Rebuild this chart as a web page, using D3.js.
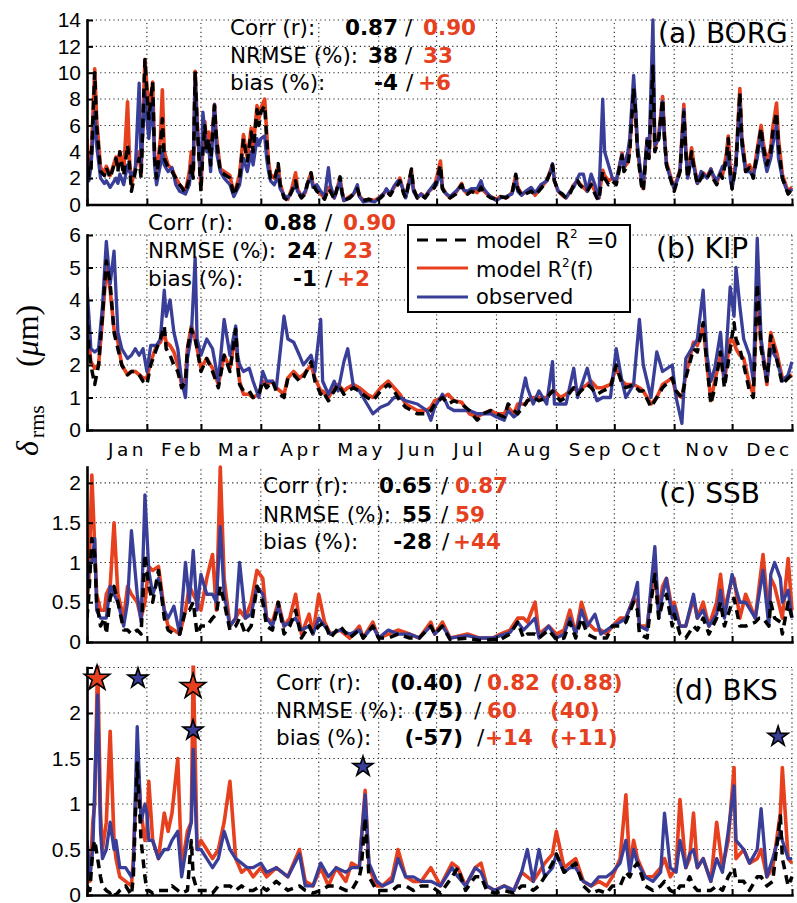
<!DOCTYPE html>
<html><head><meta charset="utf-8">
<script src="https://cdn.jsdelivr.net/npm/d3@7"></script>
<style>body{margin:0;background:#fff}svg{display:block}</style>
</head><body>
<svg id="chart" width="797" height="903"></svg>
<script>
// ---------------- DATA ----------------
const months = ["Jan","Feb","Mar","Apr","May","Jun","Jul","Aug","Sep","Oct","Nov","Dec"];
const monthLabelDays = [20.7,49.2,79.2,110.8,141.9,171.4,197.8,229.4,260.9,287.3,321.5,353.1];
const monthTickDays = [0,31,59,90,120,151,181,212,243,273,304,334,365];
const statNames = ["Corr (r):","NRMSE (%):","bias (%):"];
const seriesNames = ["model","model","observed"];

// (a) BORG
const borgDays = [0,1,2,4,5,7,9,10,12,15,
16,17,19,21,22,23,25,27,28,30,
31,32,34,35,36,38,39,40,42,44,
46,48,51,53,54,55,56,57,59,60,
61,62,63,64,66,67,69,71,74,76,
78,79,81,83,85,86,88,89,90,92,
93,94,95,97,99,100,102,104,106,108,
109,111,113,114,116,117,119,121,123,125,
126,128,131,132,133,136,138,140,141,143,
146,149,152,154,155,157,159,161,162,164,
165,168,169,171,173,175,177,180,181,183,
184,186,188,191,194,195,197,199,202,204,
205,207,209,212,214,217,220,222,223,225,
227,230,232,235,238,240,241,242,244,246,
248,250,252,254,255,257,259,261,263,264,
265,267,268,270,272,274,277,278,280,281,
283,284,285,287,288,290,291,293,294,296,
298,299,300,302,304,306,307,309,310,311,
313,314,316,318,319,321,323,324,326,328,
329,331,332,333,334,336,338,339,341,343,
345,347,349,350,352,354,355,357,358,360,
362,363,365];
const borgModel0 = [4.0,2.2,2.5,10.0,6.0,2.5,2.2,2.8,2.0,3.5,
2.5,4.0,2.2,4.5,3.0,1.0,2.5,3.5,2.0,11.0,
8.5,6.5,9.3,3.5,2.0,4.5,6.5,3.5,2.8,2.5,
2.0,1.5,0.9,2.0,3.0,2.0,10.1,6.0,1.0,4.0,
6.0,4.0,5.0,3.0,7.5,5.0,2.5,2.3,2.0,0.7,
1.5,2.0,5.0,3.3,5.5,4.0,7.2,6.0,7.0,7.5,
5.0,3.0,2.0,1.8,3.1,1.5,0.5,0.3,1.0,1.8,
1.0,0.5,0.8,1.5,2.4,1.5,1.0,0.8,0.4,1.2,
1.0,0.4,2.1,1.0,0.3,0.5,0.8,1.2,0.7,0.3,
0.4,0.2,0.5,0.8,1.0,0.7,1.2,1.5,1.8,0.8,
0.5,2.7,1.2,0.5,0.7,0.5,0.9,1.3,1.8,3.0,
1.2,0.7,0.5,0.8,1.5,1.0,0.8,1.0,0.8,1.3,
1.0,0.7,0.5,0.4,0.6,0.5,0.8,2.3,1.2,0.7,
0.8,1.0,0.7,1.2,1.8,2.5,3.0,1.8,1.0,0.8,
0.5,0.8,1.5,1.8,1.5,1.2,1.0,1.5,0.8,0.5,
0.3,2.5,2.0,1.5,1.8,1.5,3.7,2.5,3.0,4.0,
8.8,7.0,4.0,1.5,1.0,4.8,3.5,10.5,4.0,5.0,
8.0,5.0,3.0,2.0,1.0,2.0,2.5,7.0,4.0,2.0,
4.0,3.0,1.5,2.0,2.3,2.0,2.5,2.0,1.5,2.3,
2.0,3.5,5.0,2.5,1.2,3.0,8.5,5.0,2.5,2.8,
2.0,4.0,5.8,4.5,3.0,4.0,5.5,7.0,4.5,2.0,
1.2,0.8,1.2];
const borgModelF = [5.0,2.5,2.8,10.3,6.5,2.8,2.4,2.9,2.2,3.6,
2.8,4.0,2.5,7.8,3.5,1.5,2.8,4.0,2.3,11.0,
9.0,7.0,9.3,3.8,2.2,5.0,8.7,4.0,3.0,2.7,
2.0,1.5,1.0,2.5,4.0,2.5,10.1,6.5,1.2,4.5,
6.3,4.3,5.5,3.5,7.6,5.2,2.7,2.5,2.2,0.8,
1.7,2.3,5.3,3.5,5.8,4.2,7.5,6.5,7.3,8.0,
5.5,3.2,2.3,2.0,2.9,1.6,0.6,0.4,1.2,2.4,
1.2,0.6,0.9,1.5,2.4,1.5,1.1,0.8,0.5,1.3,
1.0,0.5,2.0,1.0,0.3,0.6,0.8,1.2,0.7,0.3,
0.4,0.3,0.6,0.9,1.1,0.8,1.3,1.7,2.0,0.9,
0.6,2.6,1.2,0.5,0.8,0.6,1.0,1.4,2.0,3.3,
1.3,0.8,0.5,0.9,1.6,1.1,0.8,1.1,0.9,1.5,
1.1,0.8,0.6,0.4,0.6,0.5,0.9,2.2,1.3,0.8,
0.9,1.1,0.7,1.3,1.8,2.6,3.0,1.8,1.0,0.7,
0.5,0.9,1.5,1.8,1.6,1.3,1.0,1.6,1.0,0.6,
0.5,2.6,2.2,1.8,2.0,1.7,3.9,2.8,3.2,4.3,
8.8,7.0,4.2,1.8,1.2,5.0,3.8,10.5,4.2,5.3,
8.2,5.2,3.2,2.2,1.2,2.2,2.6,7.6,4.3,2.2,
4.3,3.3,1.6,2.2,2.4,2.1,2.7,2.2,1.6,2.5,
2.2,3.8,5.2,2.8,1.4,3.3,8.8,5.2,2.8,3.0,
2.3,4.2,6.0,4.8,3.2,4.3,5.8,7.7,5.0,2.3,
1.4,1.0,1.3];
const borgObs = [3.5,1.8,2.8,7.0,4.5,2.0,1.6,1.8,1.3,2.0,
1.6,2.3,1.5,3.0,2.5,2.2,2.6,9.2,3.0,8.5,
6.5,5.0,8.0,3.0,1.5,3.0,4.0,3.0,2.5,2.8,
1.5,1.0,0.8,1.5,3.0,3.0,9.8,6.0,2.0,7.0,
5.5,4.0,4.5,2.5,7.6,4.0,2.5,2.0,1.5,0.6,
1.2,1.5,3.5,2.5,4.0,3.0,5.0,4.5,5.0,5.2,
3.5,2.5,1.8,1.5,2.2,1.2,0.7,0.5,1.0,1.5,
1.0,0.6,1.0,1.6,2.0,1.3,1.5,1.0,0.6,2.8,
1.5,0.5,1.8,0.8,0.3,0.5,0.8,1.5,0.6,0.2,
0.3,0.2,0.6,0.9,1.2,0.8,1.4,1.8,1.8,1.0,
0.5,2.3,1.0,0.5,0.8,0.5,1.0,1.6,1.5,2.5,
1.2,0.8,0.6,1.0,1.5,1.1,1.0,1.2,1.2,1.8,
1.3,0.9,0.6,0.3,0.5,0.6,0.8,1.8,1.0,0.7,
1.0,1.3,0.9,1.5,1.8,2.5,3.1,1.8,1.0,0.8,
0.5,1.0,1.3,2.0,2.3,2.3,1.0,2.3,1.5,0.8,
0.5,8.0,4.0,3.0,2.0,1.8,3.8,2.8,4.0,5.0,
9.8,7.5,4.5,2.0,1.5,5.0,4.0,14.0,4.5,5.0,
7.8,5.0,3.0,2.0,1.2,2.0,2.5,7.2,4.0,2.0,
3.5,3.0,1.6,2.5,2.3,2.0,2.7,2.3,1.8,2.5,
2.9,3.0,4.0,2.0,1.2,3.0,8.0,4.5,2.5,2.5,
2.2,3.5,5.5,4.0,2.5,3.5,4.5,6.0,3.5,2.0,
1.2,0.8,1.2];

// (b) KIP
const kipDays = [0,1,2,4,6,8,10,12,14,16,
18,21,23,25,27,29,31,33,36,38,
40,41,43,45,47,49,51,52,54,56,
57,59,62,65,68,71,74,77,78,79,
81,84,86,89,91,93,96,98,102,104,
107,110,112,116,118,121,122,125,128,130,
133,135,138,141,145,148,152,156,159,162,
165,171,176,178,180,184,187,190,194,198,
202,205,209,212,216,218,221,223,227,228,
231,234,238,241,242,245,248,252,254,259,
261,264,267,271,274,277,279,283,286,288,
292,295,298,303,305,308,310,314,316,319,
321,323,325,328,330,333,335,336,338,340,
343,345,347,349,352,354,357,360,363,365];
const kipModel0 = [3.7,2.5,2.0,1.4,2.0,3.5,5.2,4.5,3.0,2.5,
2.0,1.7,1.8,1.8,1.7,1.5,1.4,2.0,2.5,2.8,
3.2,2.5,2.3,2.0,1.8,1.3,1.5,2.5,3.1,2.8,
2.5,1.8,2.2,1.8,1.3,2.3,1.8,3.1,2.0,1.4,
1.2,1.2,1.0,1.1,1.5,1.3,1.5,1.2,1.0,1.6,
1.7,1.5,1.6,2.1,1.5,1.1,1.2,0.9,1.2,1.4,
1.1,1.2,1.3,1.2,1.0,0.9,1.2,1.4,1.2,0.9,
0.7,0.5,0.5,0.6,0.8,1.0,0.8,0.9,0.8,0.6,
0.3,0.5,0.6,0.5,0.4,0.8,0.6,0.5,0.8,0.9,
1.0,0.9,1.0,1.2,1.1,0.9,1.0,1.3,1.1,1.4,
1.3,1.1,1.2,1.3,2.0,1.4,1.3,1.4,1.2,1.2,
0.7,1.0,1.3,1.6,1.2,1.0,1.6,2.5,2.4,3.3,
2.0,0.8,1.3,2.4,1.3,2.5,3.3,2.8,2.5,2.0,
1.2,1.0,4.5,2.5,1.5,2.9,2.2,1.4,1.6,1.7];
const kipModelF = [4.0,2.7,2.1,1.9,2.0,3.4,5.0,4.3,3.1,2.7,
2.0,1.7,1.8,1.8,1.7,1.6,1.6,2.1,2.6,2.7,
3.0,2.7,2.6,2.4,2.0,1.4,1.6,2.5,3.2,2.8,
2.5,1.9,2.2,1.9,1.4,2.3,1.9,3.0,2.0,1.5,
1.1,1.1,1.0,1.1,1.5,1.4,1.5,1.3,1.1,1.6,
1.8,1.6,1.7,2.0,1.6,1.2,1.2,1.0,1.3,1.4,
1.2,1.3,1.4,1.3,1.1,1.0,1.3,1.5,1.3,1.1,
0.8,0.6,0.6,0.7,0.9,1.0,1.1,0.9,0.85,0.5,
0.4,0.5,0.6,0.5,0.5,0.7,0.5,0.8,0.8,0.9,
1.0,1.0,1.0,1.2,1.2,1.0,1.1,1.3,1.2,1.4,
1.5,1.3,1.3,1.4,1.9,1.5,1.4,1.4,1.3,1.2,
0.8,1.0,1.4,1.6,1.1,1.0,1.7,2.7,2.6,3.2,
2.0,0.9,1.5,2.3,1.5,2.8,2.7,2.5,2.3,2.2,
1.4,1.1,4.3,2.7,1.4,3.0,2.4,1.6,1.6,1.7];
const kipObs = [4.4,3.5,2.5,2.4,2.5,3.8,5.8,4.5,5.5,3.0,
2.5,2.2,2.3,2.5,2.3,2.5,1.8,2.6,2.6,2.8,
4.3,3.5,4.0,3.0,2.5,1.5,1.0,2.2,2.9,5.3,
2.8,2.3,2.8,2.5,1.5,3.4,2.3,3.2,2.3,2.0,
1.8,1.9,1.5,1.0,1.8,1.5,1.5,1.3,3.5,2.8,
2.7,2.3,2.0,2.3,1.8,3.4,1.5,1.1,1.5,1.2,
2.1,2.5,1.3,1.2,0.8,0.5,0.7,0.8,1.0,1.0,
0.9,0.8,0.6,0.3,0.7,1.1,0.7,0.6,0.6,0.6,
0.5,0.5,0.5,0.4,0.3,0.6,0.4,0.5,1.6,1.3,
0.8,1.2,0.8,2.1,0.8,0.8,0.8,1.9,1.0,1.9,
1.4,0.9,1.0,1.0,2.5,1.5,1.0,1.4,3.4,2.0,
1.0,2.4,1.8,2.0,1.0,0.2,2.2,2.6,2.8,4.3,
2.3,1.5,1.9,3.0,1.5,4.4,3.5,5.0,3.8,2.8,
2.3,1.5,5.9,2.8,1.5,2.5,2.2,1.5,1.7,2.1];

// (c) SSB
const ssbDays = [0,1,2.5,4,5,7,9,10,12,14,
16,19,21,23,26,28,30,32,34,37,
40,42,45,48,51,53,55,57,59,62,
65,67,69,71,74,77,79,82,85,88,
91,93,96,99,102,105,108,111,115,117,
120,123,126,131,136,141,143,148,151,156,
161,167,172,178,180,184,188,197,203,210,
214,219,223,226,228,232,234,239,243,247,
250,253,256,259,263,266,269,272,276,279,
283,285,286,290,292,294,296,298,300,303,
304,307,310,314,316,319,322,326,328,330,
334,335,338,341,346,348,350,353,354,356,
359,360,363,365];
const ssbModel0 = [0.3,0.6,1.3,1.1,0.5,0.2,0.3,0.1,0.55,0.7,
0.5,0.15,0.15,0.1,0.15,0.1,1.1,0.7,0.5,0.9,
0.3,0.15,0.1,0.1,0.4,0.4,0.5,0.1,0.2,0.2,
0.3,0.35,0.7,0.5,0.15,0.2,0.3,0.1,0.2,0.7,
0.5,0.2,0.15,0.5,0.1,0.2,0.4,0.05,0.2,0.1,
0.2,0.25,0.05,0.2,0.05,0.15,0.05,0.2,0.05,0.05,
0.1,0.05,0.05,0.2,0.1,0.2,0.03,0.05,0.02,0.03,
0.03,0.1,0.25,0.05,0.1,0.1,0.05,0.15,0.03,0.05,
0.25,0.05,0.3,0.1,0.05,0.05,0.05,0.2,0.2,0.25,
0.5,0.4,0.1,0.05,0.5,0.85,0.3,0.5,0.6,0.2,
0.35,0.1,0.05,0.2,0.15,0.3,0.1,0.3,0.5,0.2,
0.5,0.55,0.2,0.2,0.25,0.3,0.3,0.2,0.5,0.3,
0.25,0.1,0.5,0.3];
const ssbModelF = [0.5,0.8,2.1,1.2,0.6,0.4,0.4,0.6,0.7,1.5,
0.6,0.3,0.7,0.6,0.5,0.3,0.5,0.95,0.9,0.95,
0.4,0.2,0.15,0.1,0.4,0.7,0.6,0.5,0.4,0.8,
1.1,0.4,2.2,0.8,0.2,0.3,0.4,0.3,0.5,0.9,
0.8,0.3,0.25,0.5,0.2,0.3,0.6,0.1,0.35,0.1,
0.6,0.25,0.1,0.15,0.05,0.2,0.05,0.25,0.05,0.1,
0.15,0.1,0.05,0.25,0.1,0.25,0.05,0.1,0.05,0.05,
0.1,0.15,0.3,0.3,0.25,0.5,0.1,0.2,0.1,0.15,
0.4,0.1,0.5,0.25,0.15,0.15,0.1,0.2,0.3,0.3,
0.55,0.5,0.2,0.2,0.6,0.9,0.4,0.7,0.8,0.4,
0.5,0.2,0.2,0.55,0.3,0.5,0.2,0.5,0.85,0.4,
0.8,0.8,0.3,0.6,0.3,0.7,1.1,0.3,0.8,0.7,
0.4,0.3,1.05,0.4];
const ssbObs = [0.5,1.0,1.0,1.3,0.4,0.3,0.3,0.3,0.7,0.6,
0.5,0.2,0.5,1.4,0.6,0.25,1.85,0.9,0.6,0.8,
0.4,0.3,0.45,0.1,1.0,0.5,1.15,0.4,0.85,0.6,
0.6,0.5,1.45,0.6,0.2,0.3,1.0,0.3,0.35,0.7,
0.6,0.3,0.2,0.45,0.2,0.25,0.3,0.15,0.2,0.1,
0.3,0.2,0.1,0.15,0.1,0.15,0.05,0.2,0.05,0.15,
0.1,0.1,0.05,0.2,0.1,0.2,0.05,0.08,0.05,0.05,
0.08,0.12,0.25,0.15,0.2,0.3,0.05,0.2,0.05,0.1,
0.3,0.1,0.4,0.2,0.35,0.1,0.15,0.2,0.25,0.3,
0.55,0.75,0.2,0.15,0.7,1.2,0.3,0.6,0.8,0.3,
0.45,0.2,0.2,0.6,0.3,0.4,0.2,0.35,0.65,0.3,
0.85,0.75,0.5,0.5,0.3,0.6,0.9,0.2,0.85,1.0,
0.8,0.5,0.65,0.3];

// (d) BKS
const bksDays = [0,1.5,3,4,5.5,7,8,10,12,14,
15,17,20,23,24,26,28,30,31,32,
34,37,40,42,44,47,49,52,54,55,
57,59,62,65,68,71,74,77,80,83,
86,90,93,98,104,110,113,117,121,125,
129,134,137,141,142,144,146,150,153,158,
161,165,169,173,178,183,189,192,196,201,
204,207,211,216,221,225,228,231,234,237,
241,243,247,250,253,257,261,265,269,272,
276,279,281,283,285,289,293,297,299,302,
305,307,310,312,314,316,319,323,326,329,
332,335,336,340,343,347,349,352,355,359,
360,363,365];
const bksModel0 = [0.1,0.05,0.5,0.6,0.4,0.2,0.1,0.05,0.02,0.05,
0,0.05,0.1,0,0.2,1.45,0.6,0.2,0.05,0.05,
0.02,0.05,0.05,0.05,0.1,0.05,0.02,0.05,0.6,0.2,
0.05,0.05,0.05,0.02,0.1,0.1,0.1,0.05,0.1,0.05,
0.05,0.1,0.05,0.15,0.05,0.1,0.05,0.02,0.05,0.1,
0.1,0.05,0.05,0.2,0.3,0.85,0.2,0.05,0.05,0.05,
0.1,0.1,0.05,0.1,0.1,0.02,0.2,0.3,0.05,0.2,
0.2,0.05,0.02,0.05,0.02,0.1,0.1,0.05,0.1,0.2,
0.35,0.45,0.25,0.3,0.35,0.1,0.02,0.05,0.02,0.1,
0.1,0.25,0.2,0.3,0.35,0.1,0.05,0.1,0.15,0.05,
0.02,0.1,0.1,0.2,0.1,0.05,0.05,0.05,0.1,0.05,
0.2,0.3,0.15,0.15,0.05,0.2,0.2,0.1,0.15,0.87,
0.4,0.1,0.2];
const bksModelF = [0.3,0.15,0.8,1.0,2.6,0.9,0.5,0.8,1.8,0.6,
0.4,0.2,0.15,0.1,0.4,1.5,0.9,0.6,0.7,1.25,
0.6,0.4,0.9,0.7,0.9,1.5,0.3,0.7,0.8,2.6,
0.5,0.6,0.5,0.4,0.5,0.8,1.25,0.4,0.25,0.3,
0.2,0.3,0.2,0.3,0.2,0.5,0.15,0.1,0.3,0.1,
0.3,0.15,0.35,0.3,0.6,1.15,0.3,0.1,0.1,0.2,
0.5,0.2,0.15,0.15,0.3,0.1,0.35,0.3,0.1,0.3,
0.35,0.1,0.05,0.1,0.05,0.25,0.2,0.15,0.25,0.35,
0.45,0.7,0.3,0.35,0.4,0.15,0.1,0.15,0.1,0.2,
0.4,1.1,0.3,0.6,0.4,0.2,0.2,0.3,0.4,0.2,
0.3,1.05,0.3,0.4,0.9,0.3,0.4,0.15,0.8,0.3,
0.6,1.4,0.4,0.5,0.35,0.4,0.5,0.2,0.3,0.9,
1.4,0.4,0.35];
const bksObs = [0.6,0.2,0.5,1.2,2.2,0.7,0.4,0.5,0.8,0.5,
0.6,0.3,0.3,0.2,0.3,1.85,0.8,1.0,0.9,0.6,
0.6,0.4,0.5,0.5,0.6,0.7,0.2,0.6,0.8,1.6,
0.5,0.5,0.4,0.3,0.4,0.7,0.5,0.4,0.35,0.3,
0.3,0.35,0.25,0.3,0.2,0.45,0.1,0.1,0.35,0.2,
0.3,0.25,0.3,0.3,0.6,1.1,0.35,0.15,0.1,0.15,
0.4,0.2,0.2,0.15,0.15,0.1,0.3,0.2,0.1,0.3,
0.25,0.1,0.05,0.1,0.05,0.25,0.5,0.15,0.5,0.2,
0.3,0.45,0.25,0.3,0.3,0.15,0.1,0.2,0.2,0.25,
0.35,0.6,0.25,0.5,0.35,0.2,0.15,0.25,0.9,0.3,
0.25,0.6,0.3,0.45,0.5,0.3,0.4,0.15,0.4,0.25,
0.7,1.2,0.6,0.5,0.35,0.5,0.95,0.2,0.4,0.7,
0.6,0.4,0.4];
const bksStarRedDays = [5.2,54.9];
const bksStarRedVals = [2.38,2.29];
const bksStarBlueDays = [26.4,54.9,142.9,357.8];
const bksStarBlueVals = [2.38,1.81,1.41,1.74];

// statistics text
const borgStat0 = ["0.87","38","-4"],  borgStatF = ["0.90","33","+6"];
const kipStat0  = ["0.88","24","-1"],  kipStatF  = ["0.90","23","+2"];
const ssbStat0  = ["0.65","55","-28"], ssbStatF  = ["0.87","59","+44"];
const bksStat0  = ["(0.40)","(75)","(-57)"], bksStatF = ["0.82","60","+14"], bksStatF2 = ["(0.88)","(40)","(+11)"];

// ---------------- STYLE / LAYOUT ----------------
const RED = "#e6401e", BLUE = "#393e98", BLACK = "#000";
const SANS = "'DejaVu Sans', sans-serif";
const TICKFONT = "'Liberation Sans', Arial, sans-serif";
const X0 = 87, X1 = 792;
const svg = d3.select("#chart");
svg.append("rect").attr("width",797).attr("height",903).attr("fill","#fff");
const x = d3.scaleLinear().domain([0,365]).range([X0,X1]);

const panels = [
 {days:borgDays,k:borgModel0,r:borgModelF,b:borgObs,dom:[0,14],top:20,bot:204.5,
  ticks:[0,2,4,6,8,10,12,14],grid:[2,4,6,8,10,12,14],fmt:d3.format("d"),
  title:"(a) BORG",tx:658,ty:43,s0:borgStat0,sF:borgStatF,
  lx:230,vx:398,sx:[405,405,406],rx:[423,423,418],base:[35,63,90]},
 {days:kipDays,k:kipModel0,r:kipModelF,b:kipObs,dom:[0,6],top:235,bot:430,
  ticks:[0,1,2,3,4,5,6],grid:[1,2,3,4,5,6],fmt:d3.format("d"),
  title:"(b) KIP",tx:656,ty:258,s0:kipStat0,sF:kipStatF,
  lx:148,vx:317,sx:[325,325,325],rx:[343,343,337],base:[230,258,286],months:true},
 {days:ssbDays,k:ssbModel0,r:ssbModelF,b:ssbObs,dom:[0,2.2],top:467,bot:642,
  ticks:[0,0.5,1,1.5,2],grid:[0.5,1,1.5,2],fmt:d=>String(d),
  title:"(c) SSB",tx:659,ty:503,s0:ssbStat0,sF:ssbStatF,
  lx:263,vx:432,sx:[441,441,442],rx:[455,455,453],base:[493,522,549]},
 {days:bksDays,k:bksModel0,r:bksModelF,b:bksObs,dom:[0,2.5],top:667.5,bot:895,
  ticks:[0,0.5,1,1.5,2,2.5],grid:[0.5,1,1.5,2,2.5],fmt:d=>d===2.5?"":String(d),
  title:"(d) BKS",tx:674,ty:700,s0:bksStat0,sF:bksStatF,sF2:bksStatF2,
  lx:276,vx:463,sx:[474,474,477],rx:[487,487,485],ex:550,base:[690,718,745],stars:true}
];

const defs = svg.append("defs");

panels.forEach((p,pi)=>{
  const y = d3.scaleLinear().domain(p.dom).range([p.bot,p.top]);
  const g = svg.append("g");
  // grid
  const gridStyle = sel => sel.attr("stroke","#222").attr("stroke-width",1.1).attr("stroke-dasharray","1.2,3.2");
  g.append("g").selectAll("line").data(p.grid).join("line")
    .attr("x1",X0).attr("x2",X1).attr("y1",d=>y(d)).attr("y2",d=>y(d)).call(gridStyle);
  g.append("g").selectAll("line").data(monthTickDays.slice(1)).join("line")
    .attr("x1",d=>x(d)).attr("x2",d=>x(d)).attr("y1",y(0)).attr("y2",y(p.dom[1])).call(gridStyle);

  // clip
  const cid = "clip"+pi;
  defs.append("clipPath").attr("id",cid).append("rect")
    .attr("x",X0).attr("y",p.top-2).attr("width",X1-X0+3).attr("height",p.bot-p.top+2);

  const n = Math.min(p.days.length,p.k.length,p.r.length,p.b.length);
  const mk = arr => d3.range(n).map(i=>[p.days[i],arr[i]]);
  const line = d3.line().x(d=>x(d[0])).y(d=>y(d[1]));
  const lg = g.append("g").attr("clip-path",`url(#${cid})`)
    .attr("fill","none").attr("stroke-linejoin","round");
  lg.append("path").attr("d",line(mk(p.r))).attr("stroke",RED).attr("stroke-width",3.6);
  lg.append("path").attr("d",line(mk(p.b))).attr("stroke",BLUE).attr("stroke-width",3.3);
  lg.append("path").attr("d",line(mk(p.k))).attr("stroke",BLACK).attr("stroke-width",3.5)
    .attr("stroke-dasharray","9,6");

  // axes
  const ya = g.append("g").attr("transform",`translate(${X0},0)`)
    .call(d3.axisLeft(y).tickValues(p.ticks).tickFormat(p.fmt).tickSize(-6).tickSizeOuter(0).tickPadding(6));
  const xa = g.append("g").attr("transform",`translate(0,${p.bot})`)
    .call(d3.axisBottom(x).tickValues(monthTickDays).tickFormat("").tickSize(-6).tickSizeOuter(0));
  [ya,xa].forEach(a=>{
    a.select(".domain").attr("stroke","#000").attr("stroke-width",2.6).attr("stroke-linecap","square");
    a.selectAll(".tick line").attr("stroke","#000").attr("stroke-width",2);
  });
  ya.selectAll(".tick text").attr("font-family",TICKFONT).attr("font-size",21).attr("fill","#000");

  if(p.months){
    const ma = g.append("g").attr("transform",`translate(0,${p.bot})`)
      .call(d3.axisBottom(x).tickValues(monthLabelDays).tickFormat((d,i)=>months[i]).tickSize(0).tickPadding(13));
    ma.select(".domain").remove();
    ma.selectAll(".tick text").attr("font-family",SANS).attr("font-size",18.5)
      .attr("letter-spacing","3.5px").attr("fill","#000");
  }

  // title
  g.append("text").attr("x",p.tx).attr("y",p.ty).attr("font-family",SANS).attr("font-size",28)
    .attr("fill","#000").text(p.title);

  // stats
  statNames.forEach((nm,i)=>{
    const by = p.base[i];
    g.append("text").attr("x",p.lx).attr("y",by).attr("font-family",SANS).attr("font-size",21.5).text(nm);
    g.append("text").attr("x",p.vx).attr("y",by).attr("text-anchor","end").attr("font-family",SANS)
      .attr("font-size",21.5).attr("font-weight","bold").text(p.s0[i]);
    g.append("text").attr("x",p.sx[i]).attr("y",by).attr("font-family",SANS).attr("font-size",21.5).text("/");
    g.append("text").attr("x",p.rx[i]).attr("y",by).attr("font-family",SANS).attr("font-size",21.5)
      .attr("font-weight","bold").attr("fill",RED).text(p.sF[i]);
    if(p.sF2){
      g.append("text").attr("x",p.ex).attr("y",by).attr("font-family",SANS).attr("font-size",21.5)
        .attr("font-weight","bold").attr("fill",RED).text(p.sF2[i]);
    }
  });

  if(p.stars){
    const sr = d3.symbol(d3.symbolStar,200), sb = d3.symbol(d3.symbolStar,125);
    g.selectAll(".sr").data(d3.range(bksStarRedDays.length)).join("path")
      .attr("transform",i=>`translate(${x(bksStarRedDays[i])},${y(bksStarRedVals[i])})`)
      .attr("d",sr()).attr("fill",RED).attr("stroke","#000").attr("stroke-width",1.6);
    g.selectAll(".sb").data(d3.range(bksStarBlueDays.length)).join("path")
      .attr("transform",i=>`translate(${x(bksStarBlueDays[i])},${y(bksStarBlueVals[i])})`)
      .attr("d",sb()).attr("fill",BLUE).attr("stroke","#000").attr("stroke-width",1.6);
  }
});

// legend (in panel b)
const leg = svg.append("g");
leg.append("rect").attr("x",408).attr("y",225).attr("width",222).attr("height",87)
  .attr("fill","#fff").attr("stroke","#000").attr("stroke-width",2);
const legY = [240,268,297], legT = [248,277,304];
leg.append("line").attr("x1",417).attr("x2",470).attr("y1",legY[0]).attr("y2",legY[0])
  .attr("stroke","#000").attr("stroke-width",3.2).attr("stroke-dasharray","11,8");
leg.append("line").attr("x1",417).attr("x2",468).attr("y1",legY[1]).attr("y2",legY[1])
  .attr("stroke",RED).attr("stroke-width",3.2);
leg.append("line").attr("x1",417).attr("x2",468).attr("y1",legY[2]).attr("y2",legY[2])
  .attr("stroke",BLUE).attr("stroke-width",3.2);
const lt = (yy)=>leg.append("text").attr("x",476).attr("y",yy).attr("font-family",SANS).attr("font-size",21).attr("fill","#000");
const t1 = lt(legT[0]);
t1.append("tspan").text(seriesNames[0]);
t1.append("tspan").attr("dx",14).text("R");
t1.append("tspan").attr("font-size",12).attr("dy",-10).text("2");
t1.append("tspan").attr("dx",9).attr("dy",10).text("=0");
const t2 = lt(legT[1]);
t2.append("tspan").text(seriesNames[1]);
t2.append("tspan").attr("dx",6).text("R");
t2.append("tspan").attr("font-size",12).attr("dy",-10).text("2");
t2.append("tspan").attr("dy",10).text("(f)");
lt(legT[2]).text(seriesNames[2]);

// y-axis label
const SERIF = "'Liberation Serif','DejaVu Serif',serif";
const yl1 = svg.append("text").attr("transform","translate(38,456) rotate(-90)")
  .attr("font-family",SERIF).attr("font-size",32).attr("fill","#000");
yl1.append("tspan").attr("font-style","italic").text("δ");
yl1.append("tspan").attr("font-size",22).attr("dy",6).attr("dx",3).text("rms");
const yl2 = svg.append("text").attr("transform","translate(38,367) rotate(-90)")
  .attr("font-family",SERIF).attr("font-size",32).attr("fill","#000");
yl2.append("tspan").text("(");
yl2.append("tspan").attr("font-style","italic").text("μ");
yl2.append("tspan").text("m)");
</script>
</body></html>
